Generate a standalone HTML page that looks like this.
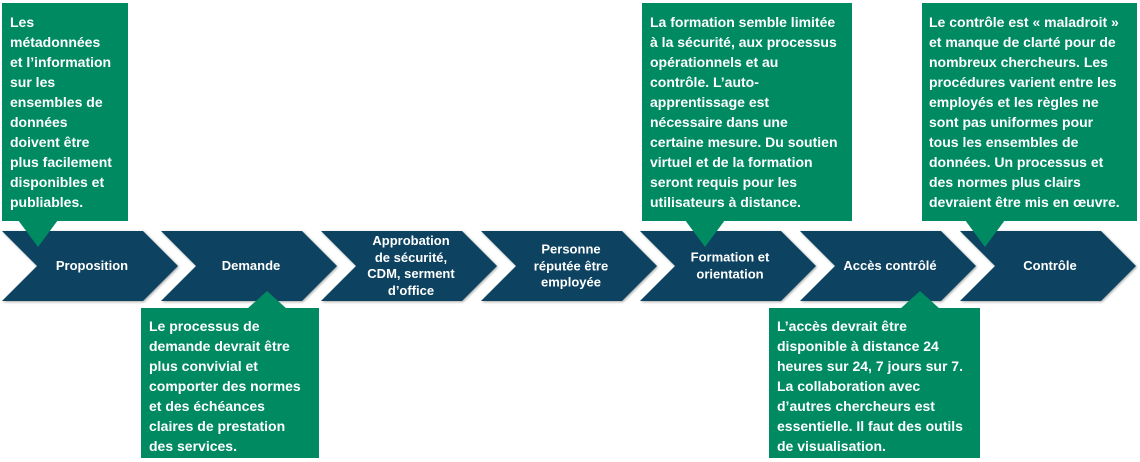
<!DOCTYPE html>
<html><head><meta charset="utf-8"><style>
body{margin:0;width:1140px;height:462px;background:#fff;position:relative;overflow:hidden;font-family:"Liberation Sans",Arial,sans-serif;font-weight:bold;color:#fff}
svg{position:absolute;left:0;top:0}
.t{position:absolute;font-size:14px;line-height:20px;white-space:nowrap}
.c{position:absolute;font-size:13px;line-height:16.5px;text-align:center;white-space:nowrap;transform:translate(-50%,-50%)}
</style></head><body>
<svg width="1140" height="462">
<defs><filter id="s" x="-5%" y="-5%" width="110%" height="120%"><feDropShadow dx="1" dy="1" stdDeviation="1.2" flood-color="#000" flood-opacity="0.35"/></filter></defs>
<g fill="#0b4260" filter="url(#s)">
<polygon points="2,231 143,231 178,266 143,301 2,301 37,266"/>
<polygon points="161,231 302,231 337,266 302,301 161,301 196,266"/>
<polygon points="321,231 462,231 497,266 462,301 321,301 356,266"/>
<polygon points="481,231 622,231 657,266 622,301 481,301 516,266"/>
<polygon points="640,231 781,231 816,266 781,301 640,301 675,266"/>
<polygon points="800,231 941,231 976,266 941,301 800,301 835,266"/>
<polygon points="960,231 1101,231 1136,266 1101,301 960,301 995,266"/>
</g>
<g fill="#008a62">
<rect x="2" y="3" width="126" height="218"/><polygon points="18,220 58,220 38,247"/>
<rect x="141" y="308" width="178" height="150"/><polygon points="247,309 287,309 267,291"/>
<rect x="642" y="3" width="210" height="218"/><polygon points="685,220 725,220 705,247"/>
<rect x="769" y="308" width="211" height="150"/><polygon points="900,309 940,309 920,291"/>
<rect x="922" y="3" width="215" height="218"/><polygon points="965,220 1005,220 985,247"/>
</g>
</svg>
<div class="t" style="left:10px;top:12px">Les<br>métadonnées<br>et l’information<br>sur les<br>ensembles de<br>données<br>doivent être<br>plus facilement<br>disponibles et<br>publiables.</div>
<div class="t" style="left:149px;top:316px">Le processus de<br>demande devrait être<br>plus convivial et<br>comporter des normes<br>et des échéances<br>claires de prestation<br>des services.</div>
<div class="t" style="left:650px;top:12px">La formation semble limitée<br>à la sécurité, aux processus<br>opérationnels et au<br>contrôle. L’auto-<br>apprentissage est<br>nécessaire dans une<br>certaine mesure. Du soutien<br>virtuel et de la formation<br>seront requis pour les<br>utilisateurs à distance.</div>
<div class="t" style="left:777px;top:316px">L’accès devrait être<br>disponible à distance 24<br>heures sur 24, 7 jours sur 7.<br>La collaboration avec<br>d’autres chercheurs est<br>essentielle. Il faut des outils<br>de visualisation.</div>
<div class="t" style="left:929px;top:12px">Le contrôle est « maladroit »<br>et manque de clarté pour de<br>nombreux chercheurs. Les<br>procédures varient entre les<br>employés et les règles ne<br>sont pas uniformes pour<br>tous les ensembles de<br>données. Un processus et<br>des normes plus clairs<br>devraient être mis en œuvre.</div>
<div class="c" style="left:92px;top:266px">Proposition</div>
<div class="c" style="left:251px;top:266px">Demande</div>
<div class="c" style="left:411px;top:266px">Approbation<br>de sécurité,<br>CDM, serment<br>d’office</div>
<div class="c" style="left:571px;top:266px">Personne<br>réputée être<br>employée</div>
<div class="c" style="left:730px;top:266px">Formation et<br>orientation</div>
<div class="c" style="left:890px;top:266px">Accès contrôlé</div>
<div class="c" style="left:1050px;top:266px">Contrôle</div>
</body></html>
